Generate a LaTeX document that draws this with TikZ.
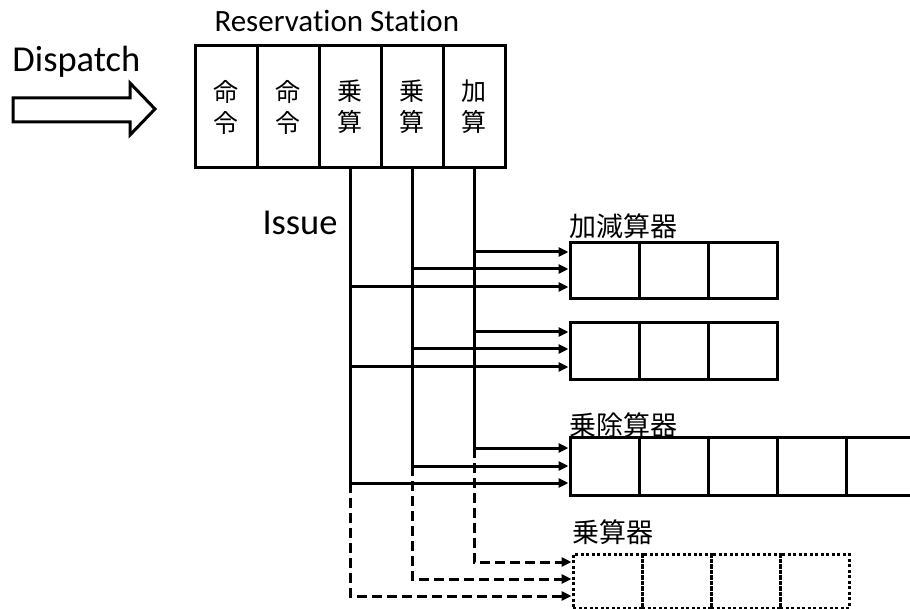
\documentclass[tikz,border=0pt]{standalone}
\usepackage{fontspec}
\setmainfont{Carlito}[Ligatures=NoCommon]
\newfontfamily\cjk{Noto Sans CJK JP}
\usetikzlibrary{arrows.meta}
\begin{document}
\begin{tikzpicture}[x=1pt,y=-1pt,line width=3pt,
  cell/.style={draw, minimum width=62pt, minimum height=122pt, inner sep=0pt,
    font=\cjk\fontsize{25}{31}\selectfont, align=center},
  fu/.style={draw, minimum width=69pt, minimum height=56pt, inner sep=0pt},
  dfu/.style={fu, minimum height=54pt, dash pattern=on 3pt off 2.5pt},
  arr/.style={-{Triangle[length=10pt,width=9pt]}},
  dsh/.style={arr, dash pattern=on 10pt off 5pt},
  lab/.style={font=\cjk\fontsize{27}{27}\selectfont, anchor=west, inner sep=0pt},
  big/.style={font=\fontsize{36.5}{36.5}\selectfont, anchor=base west, inner sep=0pt},
  mid/.style={font=\fontsize{31}{31}\selectfont, anchor=base west, inner sep=0pt}]
\useasboundingbox (0,0) rectangle (910,609);

% Dispatch arrow
\draw (13,98) -- (130,98) -- (130,83) -- (155,109) -- (130,135) -- (130,122) -- (13,122) -- cycle;
\node[big] (disp) at (11,72) {Dispatch};
\node[mid] (rstitle) at (213,32) {Reservation Station};
\node[big] (issue) at (261,235) {Issue};

% Reservation station
\node[cell] (rs1) at (226,107) {命\\令};
\node[cell] (rs2) at (288,107) {命\\令};
\node[cell] (rs3) at (350,107) {乗\\算};
\node[cell] (rs4) at (412,107) {乗\\算};
\node[cell] (rs5) at (474,107) {加\\算};

% Adder 1
\node[lab] (lad) at (568,226) {加減算器};
\node[fu] (a1) at (604.5,271) {};
\node[fu] (a2) at (673.5,271) {};
\node[fu] (a3) at (742.5,271) {};
% Adder 2
\node[fu, minimum height=57pt] (b1) at (604.5,351.5) {};
\node[fu, minimum height=57pt] (b2) at (673.5,351.5) {};
\node[fu, minimum height=57pt] (b3) at (742.5,351.5) {};
% Mult/div
\node[lab] (lmd) at (568,425) {乗除算器};
\begin{scope}
\clip (0,0) rectangle (910,609);
\node[fu, minimum height=58pt] (md1) at (604.5,466) {};
\node[fu, minimum height=58pt] (md2) at (673.5,466) {};
\node[fu, minimum height=58pt] (md3) at (742.5,466) {};
\node[fu, minimum height=58pt] (md4) at (811.5,466) {};
\node[fu, minimum height=58pt] (md5) at (880.5,466) {};
\end{scope}
% Multiplier (dotted)
\node[lab] (lm) at (571,532) {乗算器};
\node[dfu] (m1) at (607.5,581) {};
\node[dfu] (m2) at (676.5,581) {};
\node[dfu] (m3) at (745.5,581) {};
\node[dfu] (m4) at (814.5,581) {};

% Issue lines
\draw[arr] (rs5.south) |- (md1.west |- 0,448);
\draw[arr] (rs4.south) |- (md1.west |- 0,466);
\draw[arr] (rs3.south) |- (md1.west |- 0,483);

\draw[arr] (rs5.south |- 0,252) -- (a1.west |- 0,252);
\draw[arr] (rs4.south |- 0,269) -- (a1.west |- 0,269);
\draw[arr] (rs3.south |- 0,287) -- (a1.west |- 0,287);

\draw[arr] (rs5.south |- 0,332) -- (b1.west |- 0,332);
\draw[arr] (rs4.south |- 0,349) -- (b1.west |- 0,349);
\draw[arr] (rs3.south |- 0,367) -- (b1.west |- 0,367);

\draw[dsh] (rs5.south |- 0,448) |- (m1.west |- 0,562);
\draw[dsh] (rs4.south |- 0,466) |- (m1.west |- 0,579);
\draw[dsh] (rs3.south |- 0,483) |- (m1.west |- 0,596);
\end{tikzpicture}
\end{document}
